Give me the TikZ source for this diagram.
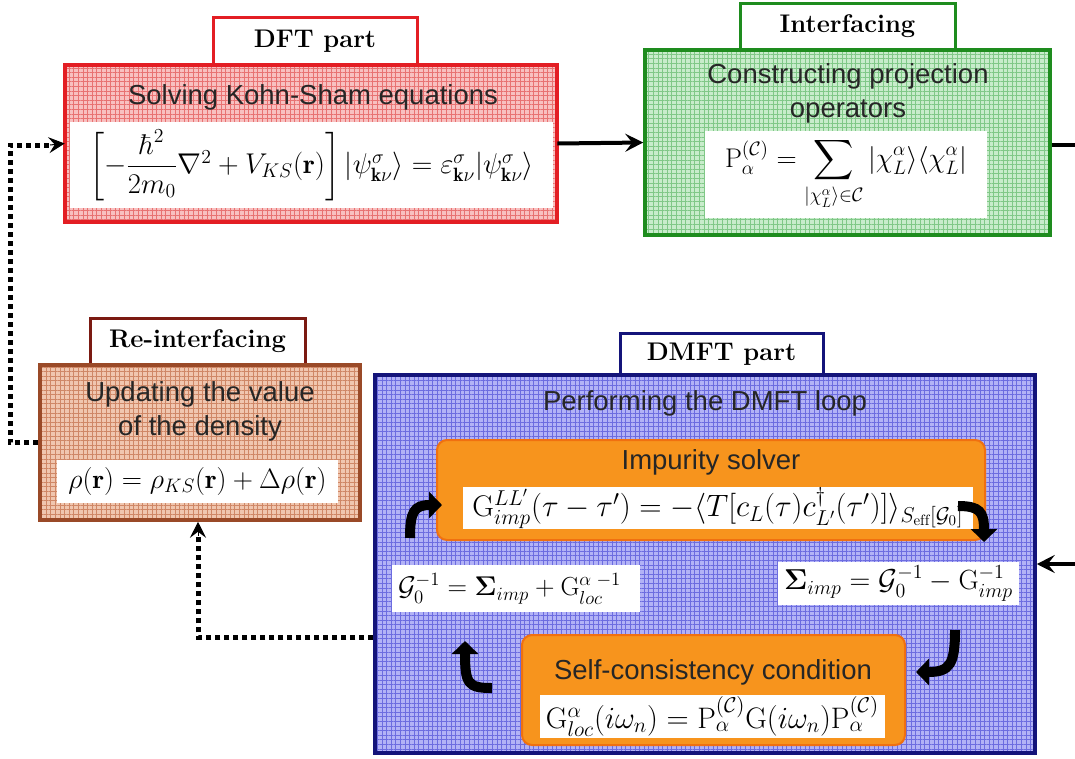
\documentclass[tikz,border=0pt]{standalone}
\usepackage{fontspec}
\setsansfont{Liberation Sans}
\usepackage{amsmath}
\usepackage{graphicx}
\usetikzlibrary{arrows.meta,patterns.meta,calc}
\definecolor{dftred}{HTML}{E31E24}
\definecolor{dftfill}{HTML}{F8C0C0}
\definecolor{dftgrid}{HTML}{E87272}
\definecolor{grn}{HTML}{1E8C1E}
\definecolor{grnfill}{HTML}{C8ECCB}
\definecolor{grngrid}{HTML}{80C887}
\definecolor{brn}{HTML}{9A4A28}
\definecolor{brntab}{HTML}{7B1A12}
\definecolor{brnfill}{HTML}{F0C6AF}
\definecolor{brngrid}{HTML}{CF8766}
\definecolor{navy}{HTML}{14147A}
\definecolor{navyfill}{HTML}{B2B2F6}
\definecolor{navygrid}{HTML}{6C6CE0}
\definecolor{orng}{HTML}{F7941D}
\definecolor{orngdark}{HTML}{F07010}
\tikzset{
  tabbox/.style={draw=#1, line width=3pt, fill=white, inner sep=0pt,
    font=\fontsize{25.5}{30}\selectfont\bfseries},
  gridbox/.style n args={3}{draw=#1, line width=3.5pt, inner sep=0pt,
    preaction={fill=#2},
    pattern={Hatch[distance=4.6pt,angle=0,line width=0.6pt]}, pattern color=#3},
  orangebox/.style={draw=orngdark, line width=2pt, fill=orng, rounded corners=10pt, inner sep=0pt},
  eqbox/.style={fill=white, inner sep=0pt, font=\fontsize{20}{24}\selectfont},
  title/.style={font=\sffamily\fontsize{27.5}{34}\selectfont, align=center, inner sep=0pt, text=black!85},
  flow/.style={line width=4pt, -{Stealth[length=18pt,width=18pt,inset=7pt]}},
  dotflow/.style={line width=5pt, dash pattern=on 5pt off 4pt},
  dottip/.style={-{Stealth[length=16pt,width=16pt,inset=6pt]}},
  bentarrow/.style={line width=10pt, -{Triangle[length=13pt,width=26pt]}},
}
\newcommand{\eqw}[2]{\resizebox{#1pt}{!}{$#2$}}
\begin{document}
\begin{tikzpicture}[x=1pt,y=-1pt]
\useasboundingbox (0,0) rectangle (1075,758);
\clip (0,0) rectangle (1075,758);
\fill[white] (0,0) rectangle (1075,758);

% ---------- DFT part ----------
\node[tabbox=dftred, minimum width=204pt, minimum height=48pt] (dfttab) at (315,41) {DFT part};
\node[gridbox={dftred}{dftfill}{dftgrid}, minimum width=492pt, minimum height=157pt] (dft) at (311,143.5) {};
\node[title] (dfttitle) at (313,97) {Solving Kohn-Sham equations};
\node[eqbox, minimum width=483pt, minimum height=86pt] (dfteq) at (311.5,165)
  {\eqw{445}{\left[-\dfrac{\hbar^2}{2m_0}\nabla^2+V_{KS}(\mathbf{r})\right]|\psi^{\sigma}_{\mathbf{k}\nu}\rangle=\varepsilon^{\sigma}_{\mathbf{k}\nu}|\psi^{\sigma}_{\mathbf{k}\nu}\rangle}};

% ---------- Interfacing ----------
\node[tabbox=grn, minimum width=215pt, minimum height=47pt] (grntab) at (847.5,26.5) {Interfacing};
\node[gridbox={grn}{grnfill}{grngrid}, minimum width=405pt, minimum height=185pt] (grnbox) at (847.5,142.5) {};
\node[title] (grntitle) at (848,93) {Constructing projection\\operators};
\node[eqbox, minimum width=282pt, minimum height=87pt] (grneq) at (846,174)
  {\eqw{242}{\displaystyle \mathrm{P}^{(\mathcal{C})}_{\alpha}=\sum_{|\chi^{\alpha}_{L}\rangle\in\mathcal{C}}|\chi^{\alpha}_{L}\rangle\langle\chi^{\alpha}_{L}|}};

% ---------- Re-interfacing ----------
\node[tabbox=brntab, minimum width=215pt, minimum height=47pt] (brntab) at (197.5,341.5) {Re-interfacing};
\node[gridbox={brn}{brnfill}{brngrid}, minimum width=320pt, minimum height=155pt] (brnbox) at (200,442.5) {};
\node[title] (brntitle) at (200,411) {Updating the value\\of the density};
\node[eqbox, minimum width=281pt, minimum height=43pt] (brneq) at (197.5,481.5)
  {\eqw{258}{\rho(\mathbf{r})=\rho_{KS}(\mathbf{r})+\Delta\rho(\mathbf{r})}};

% ---------- DMFT part ----------
\node[tabbox=navy, minimum width=203pt, minimum height=42pt] (dmfttab) at (721.5,354) {DMFT part};
\node[gridbox={navy}{navyfill}{navygrid}, minimum width=660pt, minimum height=378pt] (dmft) at (705,564) {};
\node[title] (dmfttitle) at (705,403) {Performing the DMFT loop};

\node[orangebox, minimum width=548pt, minimum height=100pt] (imp) at (711,490) {};
\node[title] (imptitle) at (711,462) {Impurity solver};
\node[eqbox, minimum width=510pt, minimum height=42pt] (impeq) at (718,508)
  {\eqw{491}{\mathrm{G}^{LL'}_{imp}(\tau-\tau')=-\langle T[c_L(\tau)c^{\dagger}_{L'}(\tau')]\rangle_{S_{\mathrm{eff}}[\mathcal{G}_0]}}};

\node[eqbox, minimum height=47pt] (lefteq) at (516,588.5)
  {\makebox[248pt][l]{\hspace{6pt}\eqw{223}{\mathcal{G}_0^{-1}=\boldsymbol{\Sigma}_{imp}+\mathrm{G}^{\alpha\;-1}_{loc}}}};
\node[eqbox, minimum width=241pt, minimum height=43pt] (righteq) at (898.5,583.5)
  {\eqw{229}{\boldsymbol{\Sigma}_{imp}=\mathcal{G}_0^{-1}-\mathrm{G}^{-1}_{imp}}};

\node[orangebox, minimum width=383pt, minimum height=110pt] (self) at (713.5,690) {};
\node[title] (selftitle) at (713,672) {Self-consistency condition};
\node[eqbox, minimum width=345pt, minimum height=43pt] (selfeq) at (712.5,716.5)
  {\eqw{333}{\mathrm{G}^{\alpha}_{loc}(i\omega_n)=\mathrm{P}^{(\mathcal{C})}_{\alpha}\mathrm{G}(i\omega_n)\mathrm{P}^{(\mathcal{C})}_{\alpha}}};

% ---------- loop arrows inside DMFT ----------
\coordinate (b1s) at (410,538);
\coordinate (b1e) at (442,505);
\coordinate (b2s) at (958,506);
\coordinate (b2e) at (984,542);
\coordinate (b3s) at (955,630);
\coordinate (b3e) at (916,672);
\coordinate (b4s) at (492,688);
\coordinate (b4e) at (465,641);
\draw[bentarrow] (b1s) .. controls (410,512) and (414,505) .. (b1e);
\draw[bentarrow] (b2s) .. controls (980,506) and (984,512) .. (b2e);
\draw[bentarrow] (b3s) .. controls (955,664) and (950,672) .. (b3e);
\draw[bentarrow] (b4s) .. controls (468,688) and (465,684) .. (b4e);

% ---------- connectors ----------
\draw[flow] (dft.east) -- (grnbox.west);
\coordinate (r1) at (1100,145);
\coordinate (r2) at (1100,564);
\draw[flow] (grnbox.east |- r1) -- (r1) -- (r2) -- (dmft.east);

\coordinate (d1) at (10,442.5);
\coordinate (d2) at (10,145);
\coordinate (d2e) at (50,145);
\draw[dotflow] (brnbox.west) -- (d1) -- (d2) -- (d2e);
\draw[dottip, line width=1pt] (d2e) -- (dft.west);

\coordinate (d3) at (198,637);
\coordinate (d4) at (198,536);
\draw[dotflow] (dmft.west |- d3) -- (d3) -- (d4);
\draw[dottip, line width=1pt] (d4) -- (brnbox.south -| d3);
\end{tikzpicture}
\end{document}
